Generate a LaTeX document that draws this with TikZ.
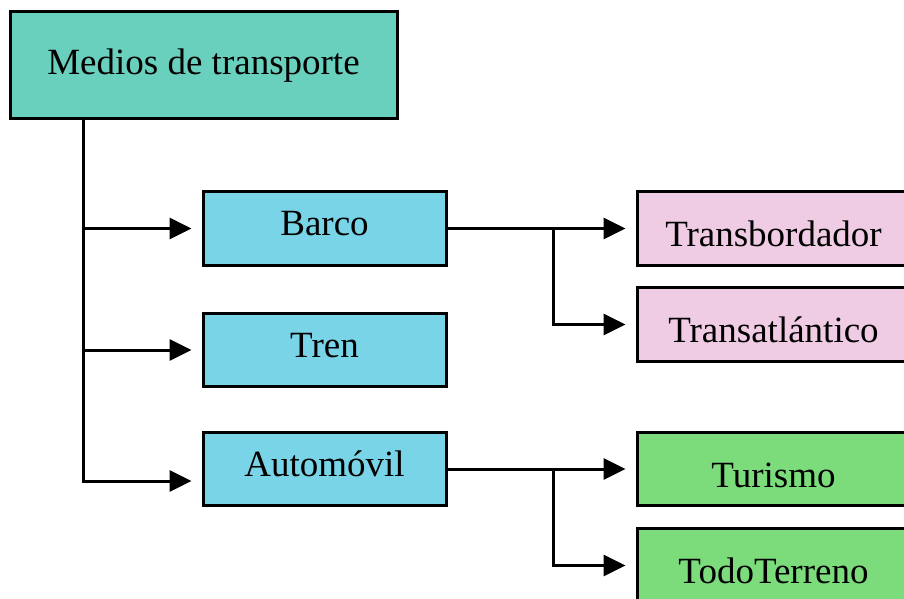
\documentclass[tikz,border=0pt]{standalone}
\usepackage{fontspec}
\setmainfont{Liberation Serif}
\usetikzlibrary{arrows.meta}
\definecolor{rootfill}{RGB}{106,208,190}
\definecolor{midfill}{RGB}{122,212,232}
\definecolor{pinkfill}{RGB}{240,204,228}
\definecolor{greenfill}{RGB}{124,220,124}
\begin{document}
\begin{tikzpicture}[x=1pt,y=-1pt,
  box/.style={draw=black, line width=3pt, inner sep=0pt, align=center,
    font=\fontsize{37}{42}\selectfont},
  rootbox/.style={box, fill=rootfill, minimum width=387pt, minimum height=107pt,
    text height=25pt, text depth=6.5pt},
  midbox/.style={box, fill=midfill, minimum width=243pt, minimum height=73.5pt,
    text height=25pt, text depth=10.5pt},
  leafbox/.style={box, minimum width=273pt, minimum height=73.5pt,
    text height=37pt, text depth=0.5pt},
  conn/.style={line width=3pt, line join=miter},
  arr/.style={conn, -{Triangle[length=22pt,width=21pt]}, shorten >=10pt}]
\useasboundingbox (0,0) rectangle (904,599);
\fill[white] (0,0) rectangle (904,599);

% boxes
\node[rootbox] (root) at (203.5,65.5) {Medios de transporte};
\node[midbox] (barco) at (324.5,228.5) {Barco};
\node[midbox] (tren) at (324.5,350) {Tren};
\node[midbox] (auto) at (324.5,469) {Automóvil};
\node[leafbox, fill=pinkfill] (transb) at (773.5,228.5) {Transbordador};
\node[leafbox, fill=pinkfill] (transa) at (773.5,324.5) {Transatlántico};
\node[leafbox, fill=greenfill] (turismo) at (773.5,469) {Turismo};
\node[leafbox, fill=greenfill] (todo) at (773.5,565.5) {TodoTerreno};

% branch points
\coordinate (trunk) at (83,0);
\coordinate (fork) at (553,0);
\coordinate (autoIn) at (83,481);

% main trunk
\draw[arr] (root.south -| trunk) -- (autoIn) -- (auto.west |- autoIn);
\draw[arr] (trunk |- barco.west) -- (barco.west);
\draw[arr] (trunk |- tren.west) -- (tren.west);

% ships
\draw[arr] (barco.east) -- (transb.west);
\draw[arr] (barco.east -| fork) |- (transa.west);

% cars
\draw[arr] (auto.east) -- (turismo.west);
\draw[arr] (auto.east -| fork) |- (todo.west);
\end{tikzpicture}
\end{document}
